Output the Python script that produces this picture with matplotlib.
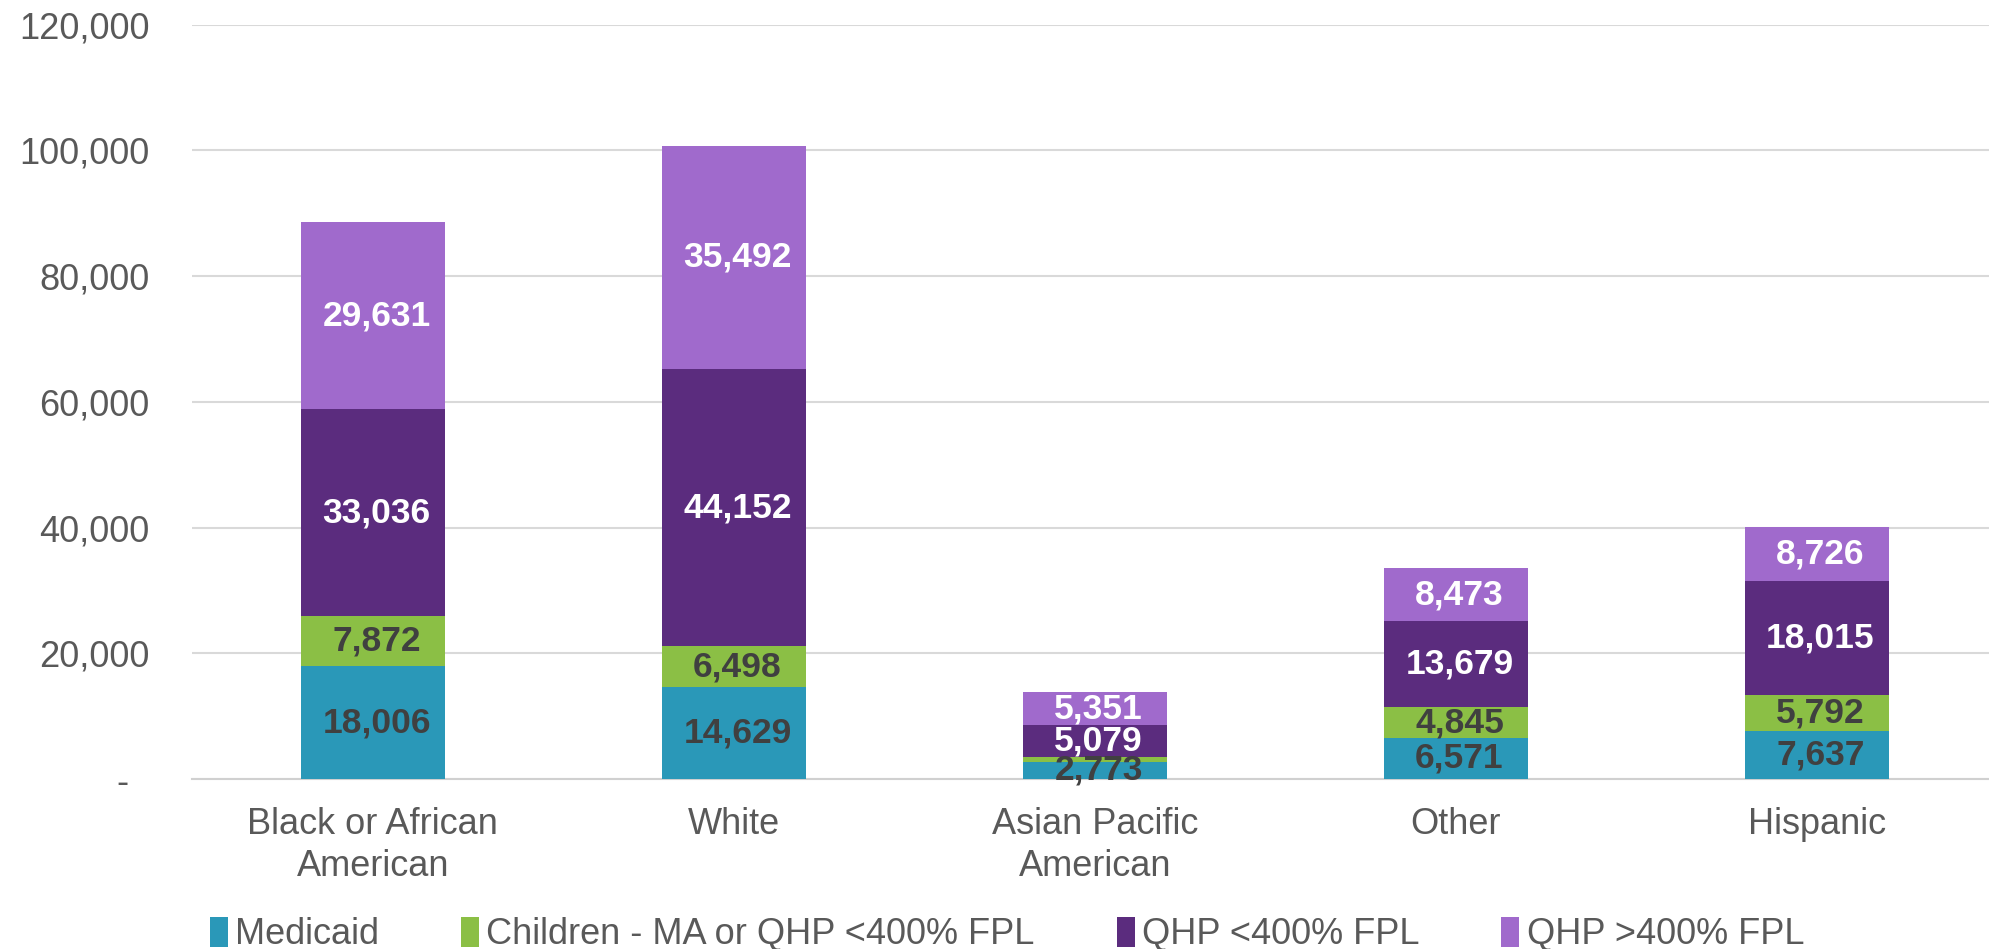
import matplotlib
matplotlib.use("Agg")
import matplotlib.pyplot as plt
import numpy as np

plt.rcParams["font.family"] = ["Liberation Sans", "DejaVu Sans"]

categories = ["Black or African\nAmerican", "White", "Asian Pacific\nAmerican", "Other", "Hispanic"]
series_names = ["Medicaid", "Children - MA or QHP <400% FPL", "QHP <400% FPL", "QHP >400% FPL"]
medicaid = [18006, 14629, 2773, 6571, 7637]
children = [7872, 6498, 700, 4845, 5792]
qhp_low = [33036, 44152, 5079, 13679, 18015]
qhp_high = [29631, 35492, 5351, 8473, 8726]
show_label = [[True] * 5, [True, True, False, True, True], [True] * 5, [True] * 5]

colors = ["#2A98B8", "#8BBF45", "#5B2C7E", "#A06ACC"]
label_colors = ["#404040", "#404040", "white", "white"]
grey = "#595959"

fig = plt.figure(figsize=(19.9, 9.49), dpi=100)
ax = fig.add_axes([0.0967, 0.179, 0.907, 0.795])

x = np.arange(len(categories))
bottom = np.zeros(len(categories))
for vals, name, col, lc, show in zip([medicaid, children, qhp_low, qhp_high],
                                     series_names, colors, label_colors, show_label):
    vals = np.array(vals, dtype=float)
    ax.bar(x, vals, 0.4, bottom=bottom, color=col, label=name, zorder=3)
    for xi, b, v, s in zip(x, bottom, vals, show):
        if s:
            ax.text(xi + 0.01, b + v / 2, f"{int(v):,}", ha="center", va="center",
                    fontsize=25.5, fontweight="bold", color=lc, zorder=4)
    bottom += vals

ax.set_xlim(-0.5, len(categories) - 0.5)
ax.set_ylim(0, 120000)
yt = np.arange(0, 120001, 20000)
ax.set_yticks(yt)
ax.set_yticklabels(["-  "] + [f"{v:,}" for v in yt[1:]])
ax.set_xticks(x)
ax.set_xticklabels(categories, linespacing=1.25)
ax.tick_params(axis="y", length=0, pad=31, labelsize=26, labelcolor=grey)
ax.tick_params(axis="x", length=0, pad=20, labelsize=26, labelcolor=grey)
ax.grid(axis="y", color="#d9d9d9", lw=1.5, zorder=0)
for s in ["top", "right", "left"]:
    ax.spines[s].set_visible(False)
ax.spines["bottom"].set_color("#d0d0d0")
ax.spines["bottom"].set_linewidth(1.5)

fig.legend(loc="center", bbox_to_anchor=(0.506, 0.015), ncol=4, frameon=False,
           fontsize=26, labelcolor=grey, handlelength=0.5, handleheight=0.9,
           handletextpad=0.2, columnspacing=2.27, borderpad=0)

fig.savefig("out.png", dpi=100)
